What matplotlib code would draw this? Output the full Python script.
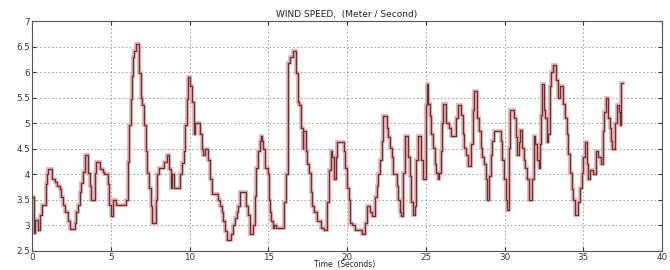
import matplotlib
matplotlib.use("Agg")
import matplotlib.pyplot as plt

# step breakpoints (seconds) and wind speed (m/s)
time_s = [0.00, 0.10, 0.20, 0.35, 0.50, 0.61, 0.90, 0.95, 1.03, 1.24, 1.45, 1.55, 1.76, 1.86,
          1.97, 2.07, 2.28, 2.39, 2.70, 2.81, 2.91, 3.02, 3.12, 3.23, 3.33, 3.54, 3.65, 3.75,
          3.96, 4.07, 4.28, 4.49, 4.59, 4.80, 4.91, 5.01, 5.12, 5.33, 5.95, 6.06, 6.16, 6.27,
          6.37, 6.41, 6.48, 6.58, 6.79, 6.90, 7.00, 7.11, 7.21, 7.32, 7.42, 7.53, 7.63, 7.84,
          7.95, 8.05, 8.37, 8.57, 8.68, 8.79, 8.89, 9.00, 9.42, 9.52, 9.62, 9.73, 9.83, 9.89,
          10.04, 10.15, 10.25, 10.36, 10.67, 10.78, 10.88, 10.99, 11.19, 11.30, 11.40, 11.82,
          11.93, 12.03, 12.14, 12.24, 12.35, 12.66, 12.77, 12.87, 12.98, 13.08, 13.19, 13.61,
          13.71, 13.82, 14.03, 14.13, 14.24, 14.34, 14.45, 14.51, 14.59, 14.65, 14.76, 14.97,
          15.07, 15.12, 15.20, 15.28, 15.39, 15.49, 16.02, 16.12, 16.23, 16.27, 16.40, 16.54,
          16.75, 16.86, 16.96, 17.07, 17.17, 17.23, 17.38, 17.48, 17.59, 17.69, 17.80, 17.90,
          18.11, 18.32, 18.53, 18.74, 18.85, 18.95, 19.06, 19.16, 19.27, 19.37, 19.79, 19.90,
          20.00, 20.11, 20.21, 20.31, 20.52, 20.94, 21.15, 21.26, 21.47, 21.57, 21.78, 21.89,
          21.99, 22.10, 22.20, 22.31, 22.52, 22.62, 22.73, 22.83, 22.94, 23.15, 23.25, 23.36,
          23.42, 23.56, 23.67, 23.88, 23.98, 24.09, 24.19, 24.30, 24.40, 24.51, 24.72, 24.82,
          24.99, 25.07, 25.14, 25.24, 25.35, 25.45, 25.56, 25.66, 25.77, 25.87, 25.98, 26.04,
          26.12, 26.29, 26.50, 26.60, 26.92, 27.02, 27.23, 27.34, 27.44, 27.55, 27.65, 27.86,
          27.97, 28.07, 28.28, 28.39, 28.49, 28.60, 28.70, 28.81, 28.91, 29.02, 29.12, 29.23,
          29.33, 29.75, 29.86, 29.96, 30.07, 30.17, 30.28, 30.38, 30.59, 30.70, 30.80, 30.91,
          31.01, 31.12, 31.22, 31.33, 31.43, 31.54, 31.75, 31.85, 31.96, 32.06, 32.17, 32.27,
          32.33, 32.41, 32.48, 32.58, 32.69, 32.79, 32.86, 32.96, 33.05, 33.26, 33.42, 33.53,
          33.74, 33.84, 33.95, 34.05, 34.16, 34.26, 34.37, 34.47, 34.68, 34.79, 34.89, 35.00,
          35.10, 35.21, 35.30, 35.41, 35.62, 35.83, 35.93, 36.14, 36.25, 36.35, 36.46, 36.56,
          36.67, 36.77, 36.84, 37.04, 37.13, 37.25, 37.33, 37.39, 37.50]
speed = [3.55, 2.85, 3.10, 2.90, 3.20, 3.40, 3.80, 4.00, 4.10, 3.90, 3.85, 3.77, 3.70, 3.55,
         3.40, 3.25, 3.07, 2.92, 3.04, 3.26, 3.40, 3.64, 3.83, 4.05, 4.37, 4.02, 3.77, 3.50,
         4.02, 4.24, 4.10, 4.05, 4.00, 3.80, 3.40, 3.17, 3.50, 3.40, 3.50, 4.24, 4.97, 5.48,
         5.92, 6.30, 6.42, 6.56, 5.98, 5.50, 5.35, 4.97, 4.46, 4.02, 3.73, 3.38, 3.04, 3.50,
         4.00, 4.12, 4.24, 4.37, 4.10, 3.73, 4.00, 3.73, 4.00, 4.22, 4.46, 4.97, 5.48, 5.90,
         5.73, 5.41, 4.78, 5.00, 4.78, 4.50, 4.37, 4.50, 4.27, 3.90, 3.60, 3.50,
         3.38, 3.26, 3.07, 2.88, 2.70, 2.82, 3.00, 3.13, 3.26, 3.38, 3.64, 3.38,
         3.20, 2.82, 3.00, 3.57, 4.12, 4.46, 4.65, 4.75, 4.65, 4.50, 4.12, 4.00,
         3.50, 3.26, 3.07, 2.94, 3.00, 2.94, 3.45, 4.00, 4.97, 6.17, 6.30, 6.42,
         5.98, 5.41, 5.35, 4.90, 4.50, 4.85, 4.46, 4.20, 4.02, 3.64, 3.38, 3.26,
         3.07, 2.94, 2.91, 3.45, 4.08, 4.46, 4.34, 3.90, 4.34, 4.62, 4.46, 4.12,
         3.73, 3.50, 3.04, 3.00, 2.91, 2.82, 3.04, 3.38, 3.26, 3.17, 3.55, 3.77,
         4.00, 4.27, 4.65, 5.13, 4.90, 4.72, 4.52, 4.34, 4.00, 3.77, 3.50, 3.26,
         3.17, 4.02, 4.75, 4.34, 3.96, 3.45, 3.20, 3.38, 4.27, 4.75, 4.27, 3.90,
         5.35, 5.76, 5.38, 5.13, 4.78, 4.52, 4.20, 4.02, 3.90, 4.02, 4.46, 5.00,
         5.38, 5.00, 4.90, 4.75, 5.10, 5.35, 5.16, 4.78, 4.52, 4.37, 4.15, 4.59,
         5.25, 5.63, 5.10, 4.84, 4.52, 4.34, 4.20, 3.90, 3.50, 3.96, 4.37, 4.65,
         4.84, 4.65, 4.27, 3.90, 3.50, 3.29, 4.52, 5.25, 5.10, 4.72, 4.37, 4.62,
         4.87, 4.52, 4.27, 4.12, 3.90, 3.50, 3.90, 4.75, 4.59, 4.27, 4.12, 4.59,
         5.16, 5.76, 5.25, 5.10, 4.62, 4.78, 5.73, 6.01, 6.14, 5.85, 5.50, 5.73,
         5.38, 5.10, 4.78, 4.40, 4.02, 3.70, 3.50, 3.20, 3.45, 3.73, 4.02, 4.34,
         4.62, 4.20, 3.90, 4.08, 4.00, 4.46, 4.34, 4.20, 4.84, 5.22, 5.50, 5.10,
         4.90, 4.65, 4.50, 5.00, 5.35, 5.22, 4.97, 5.79, 5.79]

x_ticks = [0, 5, 10, 15, 20, 25, 30, 35, 40]
x_tick_labels = ["0", "5", "10", "15", "20", "25", "30", "35", "40"]
y_ticks = [2.5, 3, 3.5, 4, 4.5, 5, 5.5, 6, 6.5, 7]
y_tick_labels = ["2.5", "3", "3.5", "4", "4.5", "5", "5.5", "6", "6.5", "7"]

fig = plt.figure(figsize=(6.7, 2.7), dpi=100)
ax = fig.add_axes([0.048, 0.072, 0.940, 0.850])

ax.step(time_s, speed, where="post", color="#e8a9ab", lw=2.6, solid_joinstyle="miter", zorder=2)
ax.step(time_s, speed, where="post", color="#6b2f30", lw=0.9, zorder=3)

ax.set_xlim(0, 40)
ax.set_ylim(2.5, 7)
ax.set_xticks(x_ticks)
ax.set_xticklabels(x_tick_labels)
ax.set_yticks(y_ticks)
ax.set_yticklabels(y_tick_labels)
ax.tick_params(direction="in", top=True, right=True, length=3, labelsize=6.3,
               colors="#333333", pad=1.5)
ax.grid(True, linestyle=(0, (1.5, 2.5)), color="#9a9a9a", lw=0.7)
for s in ax.spines.values():
    s.set_color("#555555")
    s.set_linewidth(0.8)

ax.set_title("WIND SPEED,  (Meter / Second)", fontsize=6.5, color="#222222", pad=3)
fig.text(0.515, 0.002, "Time  (Seconds)", fontsize=5.5, color="#222222",
         ha="center", va="bottom")

fig.savefig("out.png", dpi=100)
